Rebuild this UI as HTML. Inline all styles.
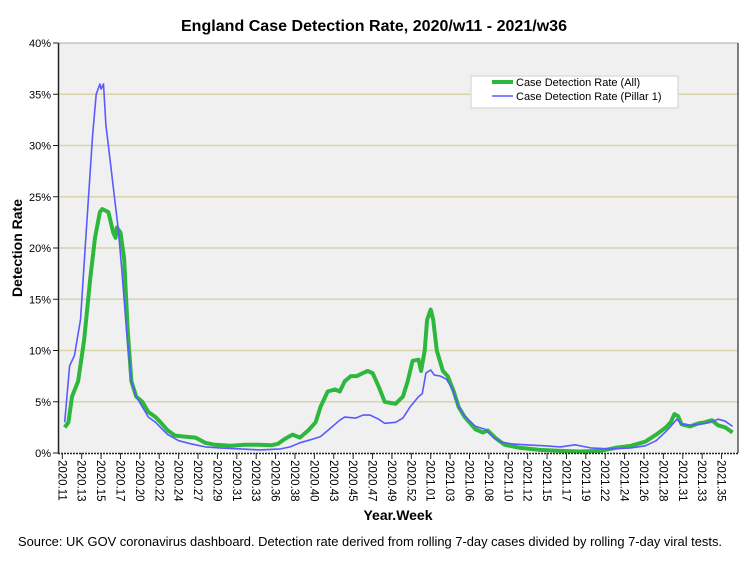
<!DOCTYPE html>
<html><head><meta charset="utf-8">
<style>
body{margin:0;background:#fff;font-family:"Liberation Sans",sans-serif;}
svg text{font-family:"Liberation Sans",sans-serif;}
</style></head>
<body>
<svg id="chart" width="754" height="564" xmlns="http://www.w3.org/2000/svg">
<rect x="0" y="0" width="754" height="564" fill="#fff"/>
<text x="374" y="31" text-anchor="middle" font-size="16" font-weight="bold" textLength="386">England Case Detection Rate, 2020/w11 - 2021/w36</text>
<rect x="58" y="43" width="680" height="410" fill="#f0f0f0"/>
<g id="grid"></g>
<g id="yticks"></g>
<g id="xticks"></g>
<g id="series"></g>
<line x1="58" y1="43" x2="738" y2="43" stroke="#aaa"/>
<line x1="738" y1="43" x2="738" y2="453" stroke="#555" stroke-width="1.5"/>
<line x1="58.5" y1="43" x2="58.5" y2="453" stroke="#222" stroke-width="1.5"/>
<line x1="58" y1="453.5" x2="738" y2="453.5" stroke="#222" stroke-width="1.5" stroke-dasharray="2,1"/>
<text transform="translate(22,248) rotate(-90)" text-anchor="middle" font-size="14" font-weight="bold">Detection Rate</text>
<text x="398" y="520" text-anchor="middle" font-size="14" font-weight="bold">Year.Week</text>
<text x="370" y="546" text-anchor="middle" font-size="12.9" textLength="704">Source: UK GOV coronavirus dashboard. Detection rate derived from rolling 7-day cases divided by rolling 7-day viral tests.</text>
<g>
<rect x="471" y="76" width="207" height="32" fill="#fff" stroke="#ddd" stroke-width="1.5"/>
<line x1="492" y1="82" x2="513" y2="82" stroke="#2db83d" stroke-width="4"/>
<text x="516" y="86" font-size="11">Case Detection Rate (All)</text>
<line x1="492" y1="96" x2="513" y2="96" stroke="#5a5aff" stroke-width="1.5"/>
<text x="516" y="100" font-size="11">Case Detection Rate (Pillar 1)</text>
</g>
</svg>
<script>
const yTicks=[0,5,10,15,20,25,30,35,40];
const xLabels=["2020.11","2020.13","2020.15","2020.17","2020.20","2020.22","2020.24","2020.27","2020.29","2020.31","2020.33","2020.36","2020.38","2020.40","2020.43","2020.45","2020.47","2020.49","2020.52","2021.01","2021.03","2021.06","2021.08","2021.10","2021.12","2021.15","2021.17","2021.19","2021.22","2021.24","2021.26","2021.28","2021.31","2021.33","2021.35"];
const allDays=[2,5,8,13,18,23,27,31,33,38,42,44,45,48,51,54,57,61,66,71,77,81,87,93,101,110,118,126,139,151,162,172,178,184,190,196,203,209,213,219,225,229,233,238,243,248,252,256,261,266,275,281,285,289,294,296,299,301,304,306,309,314,318,323,327,332,341,347,351,357,365,378,394,411,427,444,456,469,481,490,498,502,505,508,511,518,525,530,536,541,547,553];
const allVals=[2.5,3,5.5,7,11,17,21,23.5,23.8,23.5,21.5,21,22,21.5,19,12,7,5.5,5,4,3.5,3,2.2,1.7,1.6,1.5,1.0,0.8,0.7,0.8,0.8,0.75,0.9,1.4,1.8,1.5,2.2,3,4.5,6,6.2,6,7,7.5,7.5,7.8,8.0,7.8,6.5,5,4.8,5.5,7,9,9.1,8,10,13,14,13,10,8,7.5,6,4.5,3.5,2.3,2,2.2,1.5,0.8,0.5,0.3,0.2,0.15,0.2,0.5,0.7,1.1,1.8,2.5,3,3.8,3.6,2.8,2.6,2.9,3,3.2,2.7,2.5,2.0];
const p1Days=[2,6,10,15,20,25,28,31,32,34,36,40,43,46,49,53,57,61,66,71,77,81,87,96,106,118,130,147,163,180,188,196,205,213,221,229,233,242,248,254,261,266,275,281,287,294,297,300,304,307,312,317,322,327,332,341,349,355,361,370,382,398,411,423,436,452,469,481,490,498,502,507,511,518,526,535,541,547,553];
const p1Vals=[3,8.5,9.5,13,22,31,35,36,35.5,36,32,28,25,22,18,12,7,5.5,4.5,3.5,3,2.5,1.8,1.2,0.9,0.6,0.5,0.4,0.3,0.4,0.6,1.0,1.3,1.6,2.4,3.2,3.5,3.4,3.7,3.7,3.3,2.9,3.0,3.4,4.5,5.5,5.8,7.8,8.1,7.6,7.5,7.2,6.2,4.5,3.6,2.6,2.3,1.6,1.1,0.9,0.8,0.7,0.6,0.8,0.5,0.4,0.5,0.7,1.2,2.1,2.6,3.3,2.8,2.7,2.8,3,3.3,3.1,2.6];
const NS="http://www.w3.org/2000/svg";
const x=d=>62.3+d*1.212;
const xt=i=>62.3+i*19.39;
const y=v=>453-v*10.25;
function mk(t,a,p){const e=document.createElementNS(NS,t);for(const k in a)e.setAttribute(k,a[k]);p.appendChild(e);return e;}
const grid=document.getElementById('grid'),yt=document.getElementById('yticks'),xg=document.getElementById('xticks'),sg=document.getElementById('series');
yTicks.forEach(v=>{
 if(v>0&&v<40){const g=mk('line',{x1:59,x2:738,y1:y(v),y2:y(v),stroke:'#d8d4a8','stroke-width':1.5},grid);
 
 }
 const tk=mk('line',{x1:53,x2:58,y1:y(v),y2:y(v),stroke:'#222'},yt);
 
 
 const t=mk('text',{x:51,y:y(v)+4,'text-anchor':'end','font-size':11},yt);t.textContent=v+'%';
 
 
});
xLabels.forEach((l,i)=>{
 const px=xt(i);
 const tk=mk('line',{x1:px,x2:px,y1:453,y2:459,stroke:'#222'},xg);
 
 
 const t=mk('text',{transform:`translate(${px-4},460) rotate(90)`,'font-size':11.5},xg);t.textContent=l;
 
 
});
function path(ds,vs){return ds.map((d,i)=>(i?'L':'M')+x(d).toFixed(1)+','+y(vs[i]).toFixed(1)).join('');}
const ga=mk('path',{d:path(allDays,allVals),fill:'none',stroke:'#2db83d','stroke-width':4,'stroke-linejoin':'round'},sg);


const gb=mk('path',{d:path(p1Days,p1Vals),fill:'none',stroke:'#5a5aff','stroke-width':1.6,'stroke-linejoin':'round'},sg);


</script>
</body></html>
